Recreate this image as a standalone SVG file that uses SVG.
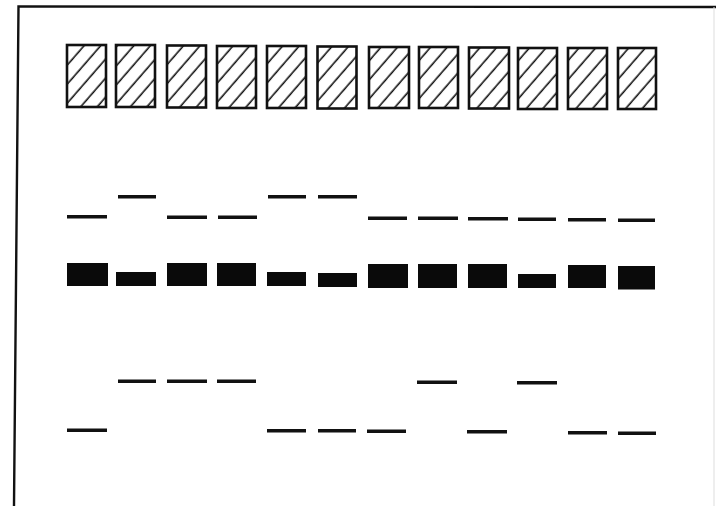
<svg xmlns="http://www.w3.org/2000/svg" width="716" height="506" viewBox="0 0 716 506">
<defs>
<pattern id="hatch" patternUnits="userSpaceOnUse" width="10" height="12.5" patternTransform="rotate(-49)">
<line x1="0" y1="6" x2="10" y2="6" stroke="#111" stroke-width="1.6"/>
</pattern>
<style>
.well{fill:url(#hatch);stroke:#111;stroke-width:2.6}
.thin{fill:#111}
.thick{fill:#0a0a0a}
.frame{stroke:#111;stroke-width:2.4;fill:none}
</style>
</defs>
<rect width="716" height="506" fill="#fff"/>
<g id="frame">
<path class="frame" d="M14 506 L18.5 6.5 L716 7"/>
<line x1="714" y1="7" x2="714" y2="506" stroke="#ddd" stroke-width="1"/>
</g>
<g id="wells">
<rect id="well1" class="well" x="67" y="45" width="39" height="62"/>
<rect id="well2" class="well" x="116" y="45" width="39" height="62"/>
<rect id="well3" class="well" x="167" y="45.5" width="39" height="62"/>
<rect id="well4" class="well" x="217" y="46" width="39" height="62"/>
<rect id="well5" class="well" x="267" y="46" width="39" height="62"/>
<rect id="well6" class="well" x="317.5" y="46.5" width="39" height="62"/>
<rect id="well7" class="well" x="369" y="47" width="40" height="61"/>
<rect id="well8" class="well" x="419" y="47" width="39" height="61"/>
<rect id="well9" class="well" x="469" y="47.5" width="40" height="61"/>
<rect id="well10" class="well" x="518" y="48" width="39" height="61"/>
<rect id="well11" class="well" x="568" y="48" width="39" height="61"/>
<rect id="well12" class="well" x="618" y="48" width="38" height="61"/>
</g>
<g id="bands-upper">
<rect class="thin" x="67" y="215" width="40" height="3.5"/>
<rect class="thin" x="118" y="195" width="38" height="3.5"/>
<rect class="thin" x="167" y="215.5" width="40" height="3.5"/>
<rect class="thin" x="218" y="215.5" width="39" height="3.5"/>
<rect class="thin" x="268" y="195" width="38" height="3.5"/>
<rect class="thin" x="318" y="195" width="39" height="3.5"/>
<rect class="thin" x="368" y="216.5" width="39" height="3.5"/>
<rect class="thin" x="418" y="216.5" width="40" height="3.5"/>
<rect class="thin" x="468" y="217" width="40" height="3.5"/>
<rect class="thin" x="518" y="217.5" width="38" height="3.5"/>
<rect class="thin" x="568" y="218" width="38" height="3.5"/>
<rect class="thin" x="618" y="218.5" width="37" height="3.5"/>
</g>
<g id="bands-main">
<rect class="thick" x="67" y="263" width="41" height="23"/>
<rect class="thick" x="116" y="272" width="40" height="14"/>
<rect class="thick" x="167" y="263" width="40" height="23"/>
<rect class="thick" x="217" y="263" width="39" height="23"/>
<rect class="thick" x="267" y="272" width="39" height="14"/>
<rect class="thick" x="318" y="273" width="39" height="14"/>
<rect class="thick" x="368" y="264" width="40" height="24"/>
<rect class="thick" x="418" y="264" width="39" height="24"/>
<rect class="thick" x="468" y="264" width="39" height="24"/>
<rect class="thick" x="518" y="274" width="38" height="14"/>
<rect class="thick" x="568" y="265" width="38" height="23"/>
<rect class="thick" x="618" y="266" width="37" height="23.5"/>
</g>
<g id="bands-lower">
<rect class="thin" x="118" y="379.5" width="38" height="3.5"/>
<rect class="thin" x="167" y="379.5" width="40" height="3.5"/>
<rect class="thin" x="217" y="379.5" width="39" height="3.5"/>
<rect class="thin" x="417" y="380.5" width="40" height="3.5"/>
<rect class="thin" x="517" y="381" width="40" height="3.5"/>
<rect class="thin" x="67" y="428.5" width="40" height="3.5"/>
<rect class="thin" x="267" y="429" width="39" height="3.5"/>
<rect class="thin" x="318" y="429" width="38" height="3.5"/>
<rect class="thin" x="367" y="429.5" width="39" height="3.5"/>
<rect class="thin" x="467" y="430" width="40" height="3.5"/>
<rect class="thin" x="568" y="431" width="39" height="3.5"/>
<rect class="thin" x="618" y="431.5" width="38" height="3.5"/>
</g>
</svg>
